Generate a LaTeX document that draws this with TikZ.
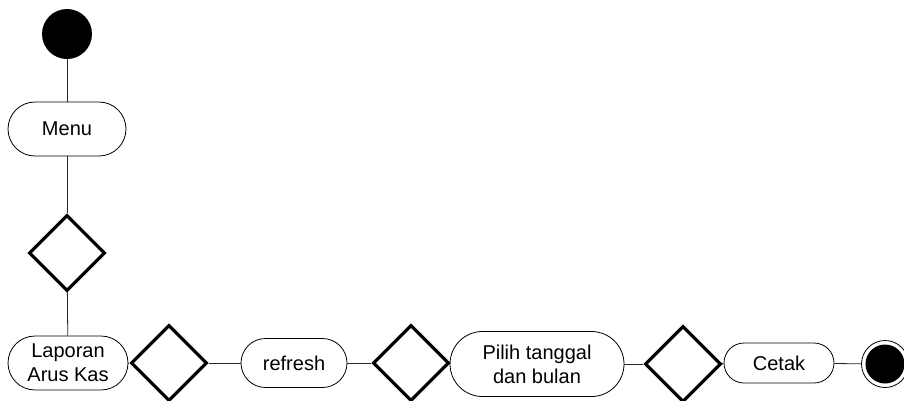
\documentclass[tikz,border=0pt]{standalone}
\usepackage{fontspec}
\setmainfont{Liberation Sans}
\usetikzlibrary{shapes.geometric}

\begin{document}
\begin{tikzpicture}[x=1pt,y=-1pt]
	\tikzstyle{act}=[draw=black,line width=0.8pt,inner sep=0pt,align=center,font=\fontsize{20}{24}\selectfont]
	\tikzstyle{dec}=[diamond,aspect=1,draw=black,line width=3.2pt,minimum width=76pt,minimum height=76pt,inner sep=0pt]
	\tikzstyle{link}=[draw=black!85,line width=0.8pt]
	
	\def \col{67}
	\def \row{363}
	
	\useasboundingbox (0,0) rectangle (904,400);
	
	% kolom kiri
	\node[circle,fill=black,minimum size=50pt,inner sep=0pt] (start) at (\col,34) {};
	\node[act,minimum width=118pt,minimum height=54pt,rounded corners=27pt] (menu) at (\col,129) {Menu};
	\node[dec] (c1) at (\col,253) {};
	
	% baris bawah
	\node[act,minimum width=120pt,minimum height=54pt,rounded corners=27pt] (laporan) at (68,\row) {Laporan\\Arus Kas};
	\node[dec] (c2) at (169,\row) {};
	\node[act,minimum width=106pt,minimum height=49pt,rounded corners=24.5pt] (refresh) at (294,\row) {refresh};
	\node[dec] (c3) at (411,\row) {};
	\node[act,minimum width=174pt,minimum height=65pt,rounded corners=32.5pt] (pilih) at (537,364) {Pilih tanggal\\dan bulan};
	\node[dec] (c4) at (683,364) {};
	\node[act,minimum width=110pt,minimum height=40pt,rounded corners=20pt] (cetak) at (779,363) {Cetak};
	\node[circle,draw=black,line width=0.8pt,minimum size=47pt,inner sep=0pt] (end) at (885,364) {};
	\node[circle,fill=black,minimum size=39pt,inner sep=0pt] (endin) at (end) {};
	
	\draw[link] (start) -- (menu);
	\draw[link] (menu) -- (c1);
	\draw[link] (c1) -- (laporan);
	\draw[link] (laporan) -- (c2);
	\draw[link] (c2) -- (refresh);
	\draw[link] (refresh) -- (c3);
	\draw[link] (c3) -- (pilih);
	\draw[link] (pilih) -- (c4);
	\draw[link] (c4) -- (cetak);
	\draw[link] (cetak) -- (end);
\end{tikzpicture}
\end{document}
